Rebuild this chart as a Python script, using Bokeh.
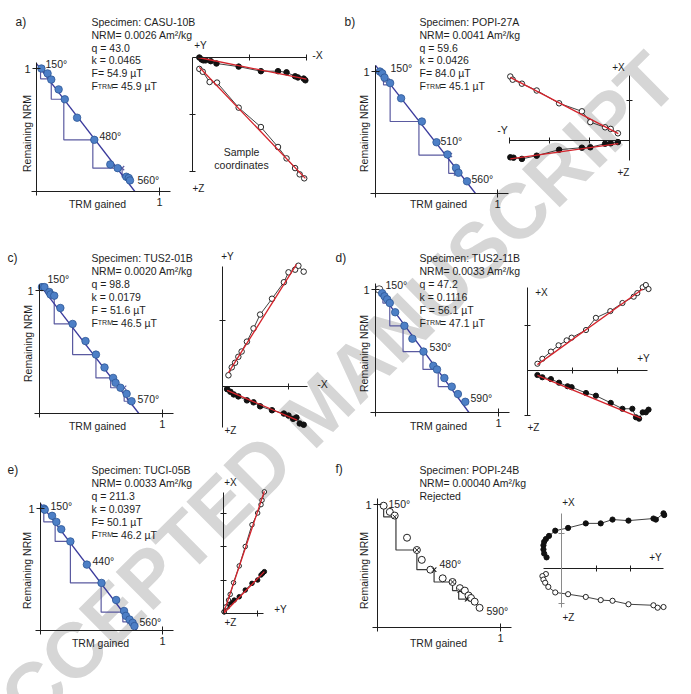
import numpy as np
from bokeh.plotting import figure
from bokeh.models import Range1d, LinearAxis, FixedTicker, Label
from bokeh.embed import file_html
from bokeh.resources import INLINE

W, H = 691, 694
FONT = "Liberation Sans"
INK = "#1e1e1e"
BLUE_FILL = "#4d7fc6"
BLUE_EDGE = "#2d5796"
FIT_BLUE = "#3a3a9c"
STEP_BLUE = "#5a5aa0"
RED = "#d4232b"

# ---------------- Arai plots: NRM remaining vs TRM gained ----------------
casu_trm = [0.04, 0.09, 0.12, 0.18, 0.23, 0.33, 0.47, 0.60, 0.66, 0.73, 0.75, 0.76]
casu_nrm = [1.00, 0.96, 0.91, 0.83, 0.75, 0.60, 0.42, 0.22, 0.19, 0.12, 0.11, 0.09]
casu_fit_trm = [0.0, 0.80]
casu_fit_nrm = [1.04, 0.0]
casu_chk_from_trm = [0.033, 0.12, 0.222, 0.458, 0.696]
casu_chk_from_nrm = [1.00, 0.91, 0.75, 0.42, 0.19]
casu_chk_trm = [0.12, 0.228, 0.47, 0.696, 0.745]
casu_chk_nrm = [0.916, 0.75, 0.42, 0.19, 0.117]

popi27_trm = [0.036, 0.055, 0.074, 0.12, 0.21, 0.38, 0.50, 0.59, 0.66, 0.68, 0.75]
popi27_nrm = [1.00, 0.985, 0.95, 0.905, 0.78, 0.59, 0.42, 0.32, 0.21, 0.17, 0.10]
popi27_fit_trm = [0.0, 0.82]
popi27_fit_nrm = [1.05, 0.0]
popi27_chk_from_trm = [0.063, 0.12, 0.356, 0.60]
popi27_chk_from_nrm = [0.985, 0.905, 0.59, 0.315]
popi27_chk_trm = [0.09, 0.37, 0.61, 0.66]
popi27_chk_nrm = [0.915, 0.59, 0.315, 0.165]

tus01_trm = [0.02, 0.04, 0.08, 0.09, 0.12, 0.17, 0.27, 0.375, 0.46, 0.53, 0.60, 0.62, 0.66, 0.71, 0.75]
tus01_nrm = [1.03, 1.03, 0.99, 0.97, 0.96, 0.86, 0.73, 0.59, 0.48, 0.375, 0.29, 0.25, 0.21, 0.16, 0.10]
tus01_fit_trm = [0.0, 0.81]
tus01_fit_nrm = [1.05, 0.0]
tus01_chk_from_trm = [0.12, 0.27, 0.46, 0.58, 0.69]
tus01_chk_from_nrm = [0.96, 0.73, 0.48, 0.29, 0.16]
tus01_chk_trm = [0.27, 0.46, 0.60, 0.69, 0.73]
tus01_chk_nrm = [0.73, 0.48, 0.29, 0.21, 0.10]

tus11_trm = [0.03, 0.054, 0.073, 0.095, 0.116, 0.16, 0.235, 0.30, 0.39, 0.47, 0.50, 0.56, 0.62, 0.67, 0.73]
tus11_nrm = [1.00, 0.97, 0.945, 0.92, 0.89, 0.815, 0.705, 0.60, 0.495, 0.38, 0.35, 0.28, 0.21, 0.15, 0.087]
tus11_fit_trm = [0.0, 0.76]
tus11_fit_nrm = [1.03, 0.0]
tus11_chk_from_trm = [0.06, 0.116, 0.224, 0.386, 0.51]
tus11_chk_from_nrm = [0.97, 0.89, 0.705, 0.495, 0.35]
tus11_chk_trm = [0.116, 0.235, 0.39, 0.50, 0.62]
tus11_chk_nrm = [0.89, 0.705, 0.495, 0.35, 0.21]

tuci_trm = [0.027, 0.035, 0.095, 0.13, 0.17, 0.245, 0.38, 0.50, 0.62, 0.685, 0.70, 0.73, 0.755, 0.77]
tuci_nrm = [1.00, 0.99, 0.94, 0.89, 0.83, 0.73, 0.54, 0.39, 0.25, 0.16, 0.12, 0.09, 0.063, 0.036]
tuci_fit_trm = [0.0, 0.79]
tuci_fit_nrm = [1.04, 0.0]
tuci_chk_from_trm = [0.027, 0.12, 0.245, 0.497, 0.675]
tuci_chk_from_nrm = [1.00, 0.89, 0.73, 0.39, 0.12]
tuci_chk_trm = [0.13, 0.245, 0.50, 0.685, 0.73]
tuci_chk_nrm = [0.89, 0.73, 0.39, 0.15, 0.07]

popi24_trm = [0.05, 0.10, 0.14, 0.24, 0.32, 0.36, 0.43, 0.53, 0.61, 0.67, 0.71, 0.74, 0.76, 0.79, 0.83]
popi24_nrm = [0.99, 0.94, 0.91, 0.73, 0.63, 0.55, 0.47, 0.40, 0.37, 0.32, 0.30, 0.26, 0.24, 0.21, 0.16]
popi24_chk_from_trm = [0.05, 0.15, 0.32, 0.46, 0.61, 0.66]
popi24_chk_from_nrm = [0.99, 0.91, 0.63, 0.47, 0.37, 0.32]
popi24_chk_trm = [0.14, 0.32, 0.46, 0.61, 0.67, 0.73]
popi24_chk_nrm = [0.90, 0.63, 0.47, 0.37, 0.30, 0.23]

# ---------------- Zijderveld plots (horizontal, vertical components) ----------------
casu_zh_open = [0.12, 0.18, 0.30, 0.43, 0.81, 1.20, 1.50, 1.65, 1.80, 1.88, 1.96]
casu_zv_open = [-0.20, -0.25, -0.43, -0.44, -0.88, -1.22, -1.57, -1.77, -1.94, -2.05, -2.12]
casu_zh_fill = [0.12, 0.16, 0.19, 0.23, 0.32, 0.42, 0.81, 1.20, 1.50, 1.65, 1.80, 1.85, 1.95, 1.98]
casu_zv_fill = [0.0, -0.035, -0.05, -0.05, -0.064, -0.105, -0.16, -0.24, -0.24, -0.26, -0.33, -0.35, -0.37, -0.40]
casu_fit_open = ([0.12, 1.98], [-0.17, -2.12])
casu_fit_fill = ([0.10, 2.00], [0.0, -0.38])

popi27_zh_open = [-2.98, -2.92, -2.69, -2.32, -1.76, -1.19, -0.98, -0.61, -0.47, -0.29]
popi27_zv_open = [1.60, 1.52, 1.42, 1.25, 0.93, 0.73, 0.46, 0.33, 0.29, 0.18]
popi27_zh_fill = [-2.98, -2.90, -2.69, -2.32, -1.76, -1.19, -0.98, -0.61, -0.47, -0.29]
popi27_zv_fill = [-0.42, -0.43, -0.46, -0.38, -0.23, -0.18, -0.17, -0.08, -0.07, -0.04]
popi27_fit_open = ([-2.98, -0.28], [1.58, 0.17])
popi27_fit_fill = ([-2.98, -0.28], [-0.46, -0.08])

tus01_zh_open = [0.09, 0.14, 0.19, 0.24, 0.29, 0.37, 0.47, 0.57, 0.75, 0.93, 1.00, 1.10, 1.15, 1.23]
tus01_zv_open = [0.17, 0.29, 0.36, 0.45, 0.53, 0.68, 0.88, 1.09, 1.33, 1.58, 1.73, 1.77, 1.83, 1.74]
tus01_zh_fill = [0.07, 0.12, 0.17, 0.24, 0.37, 0.47, 0.57, 0.75, 0.93, 1.00, 1.07, 1.12, 1.17, 1.23]
tus01_zv_fill = [-0.04, -0.08, -0.12, -0.15, -0.21, -0.24, -0.30, -0.36, -0.41, -0.44, -0.49, -0.47, -0.56, -0.58]
tus01_fit_open = ([0.09, 1.12], [0.21, 1.85])
tus01_fit_fill = ([0.07, 1.13], [-0.06, -0.51])

tus11_zh_open = [0.22, 0.33, 0.52, 0.69, 0.87, 0.98, 1.30, 1.52, 1.84, 2.11, 2.36, 2.44, 2.56, 2.63, 2.69]
tus11_zv_open = [0.15, 0.26, 0.42, 0.56, 0.67, 0.73, 0.90, 1.17, 1.32, 1.50, 1.64, 1.72, 1.85, 1.90, 1.81]
tus11_zh_fill = [0.22, 0.33, 0.52, 0.70, 0.89, 0.98, 1.30, 1.52, 1.85, 2.11, 2.33, 2.41, 2.48, 2.56, 2.63, 2.69]
tus11_zv_fill = [-0.10, -0.15, -0.19, -0.27, -0.35, -0.37, -0.50, -0.56, -0.72, -0.85, -0.85, -1.04, -1.07, -0.93, -0.93, -0.87]
tus11_fit_open = ([0.22, 2.56], [0.13, 1.81])
tus11_fit_fill = ([0.22, 2.52], [-0.11, -1.06])

tuci_zh_open = [0.02, 0.07, 0.15, 0.20, 0.30, 0.47, 0.65, 0.85, 1.02, 1.12, 1.15, 1.22]
tuci_zv_open = [0.05, 0.20, 0.40, 0.57, 0.92, 1.42, 2.00, 2.65, 3.00, 3.25, 3.38, 3.63]
tuci_zh_fill = [0.02, 0.12, 0.22, 0.32, 0.47, 0.65, 0.85, 1.02, 1.12, 1.17, 1.22]
tuci_zv_fill = [0.05, 0.20, 0.32, 0.40, 0.50, 0.70, 0.90, 1.00, 1.15, 1.20, 1.25]
tuci_fit_open = ([0.0, 1.22], [0.0, 3.65])
tuci_fit_fill = ([0.0, 1.22], [0.0, 1.25])

popi24_zh_fill = [-0.43, -0.50, -0.52, -0.52, -0.50, -0.45, -0.36, -0.18, 0.19, 0.70, 1.13, 1.47, 1.93, 2.65, 2.72, 2.94, 2.96]
popi24_zv_fill = [0.32, 0.43, 0.55, 0.67, 0.77, 0.85, 0.94, 1.09, 1.17, 1.30, 1.30, 1.41, 1.38, 1.44, 1.41, 1.59, 1.54]
popi24_zh_open = [-0.45, -0.55, -0.52, -0.47, -0.38, -0.18, 0.19, 0.70, 1.13, 1.47, 1.93, 2.65, 2.77, 2.94]
popi24_zv_open = [-0.16, -0.22, -0.32, -0.41, -0.53, -0.69, -0.74, -0.82, -0.91, -0.93, -1.03, -1.06, -1.13, -1.11]

# ---------------- Specimen summaries ----------------
casu_info = ["Specimen: CASU-10B", "NRM= 0.0026 Am\u00b2/kg", "q = 43.0", "k = 0.0465", "F= 54.9 \u00b5T"]
casu_ftrm = "= 45.9 \u00b5T"
popi27_info = ["Specimen: POPI-27A", "NRM= 0.0041 Am\u00b2/kg", "q = 59.6", "k = 0.0426", "F= 84.0 \u00b5T"]
popi27_ftrm = "= 45.1 \u00b5T"
tus01_info = ["Specimen: TUS2-01B", "NRM= 0.0020 Am\u00b2/kg", "q = 98.8", "k = 0.0179", "F = 51.6 \u00b5T"]
tus01_ftrm = "= 46.5 \u00b5T"
tus11_info = ["Specimen: TUS2-11B", "NRM= 0.0033 Am\u00b2/kg", "q = 47.2", "k = 0.1116", "F = 56.1 \u00b5T"]
tus11_ftrm = "= 47.1 \u00b5T"
tuci_info = ["Specimen: TUCI-05B", "NRM= 0.0033 Am\u00b2/kg", "q = 211.3", "k = 0.0397", "F= 50.1 \u00b5T"]
tuci_ftrm = "= 46.2 \u00b5T"
popi24_info = ["Specimen: POPI-24B", "NRM= 0.00040 Am\u00b2/kg", "Rejected"]

p = figure(width=W, height=H, x_range=Range1d(0, W), y_range=Range1d(H, 0),
           x_axis_type=None, y_axis_type=None, toolbar_location=None,
           output_backend="svg", min_border=0, outline_line_color=None,
           background_fill_color="white", border_fill_color="white")


def text(x, y, t, size=10.5, align="left", baseline="middle", angle=0.0,
         color=INK, style="normal", level="annotation"):
    p.add_layout(Label(x=x, y=y, text=t, text_font=FONT, text_font_size=f"{size}px",
                       text_align=align, text_baseline=baseline, angle=angle,
                       text_color=color, text_font_style=style, level=level))


# watermark across the page
text(318, 408, "ACCEPTED MANUSCRIPT", size=78, align="center", angle=np.radians(44.75),
     color="#d6d6d6", style="bold", level="underlay")


def panel_ranges(key, ox, oy, unit):
    """Sub-plot coordinates: data (0, 0) sits at page pixel (ox, oy), `unit` px per data unit."""
    p.extra_x_ranges[key] = Range1d(-ox / unit, (W - ox) / unit)
    p.extra_y_ranges[key] = Range1d((oy - H) / unit, oy / unit)
    return dict(x_range_name=key, y_range_name=key)


def axis(key, dim, bounds, ticks, labelled=False, tick_len=4, color=INK):
    ax = LinearAxis(x_range_name=key, y_range_name=key, fixed_location=0, bounds=bounds,
                    ticker=FixedTicker(ticks=ticks), axis_line_color=color, axis_line_width=1,
                    major_tick_line_color=color, major_tick_in=tick_len, major_tick_out=tick_len,
                    minor_tick_line_color=None, major_label_standoff=2,
                    major_label_text_font=FONT, major_label_text_font_size="11px",
                    major_label_text_color=INK)
    if not labelled:
        ax.major_label_overrides = {t: "" for t in ticks}
    p.add_layout(ax, "below" if dim == "x" else "left")


def arai(key, ox, oy, unit, trm, nrm, from_trm, from_nrm, chk_trm, chk_nrm,
         fit=None, chk_marks=None, first_open=False, rejected=False):
    kw = panel_ranges(key, ox, oy, unit)
    axis(key, "x", (-0.04, 1.09), [1], labelled=True)
    axis(key, "y", (-0.03, 1.05), [1], labelled=True)
    step_color = "#3a3a3a" if rejected else STEP_BLUE
    xs = [[a, a, c] for a, c in zip(from_trm, chk_trm)]
    ys = [[b, d, d] for b, d in zip(from_nrm, chk_nrm)]
    p.multi_line(xs, ys, line_color=step_color, line_width=1.2, **kw)
    marks = chk_marks if chk_marks is not None else ["x"] * len(chk_trm)
    p.scatter(chk_trm, chk_nrm, marker=marks, size=6, line_color=step_color,
              fill_color=None, line_width=1.1, **kw)
    if fit is not None:
        p.line(fit[0], fit[1], line_color=FIT_BLUE, line_width=1.3, **kw)
    if rejected:
        p.scatter(trm, nrm, size=7, fill_color="white", line_color="#222222", line_width=1, **kw)
        p.scatter(chk_trm, chk_nrm, marker="x", size=6, line_color="#222222", line_width=1, **kw)
    else:
        fills = ["white" if (first_open and i == 0) else BLUE_FILL for i in range(len(trm))]
        edges = ["#222222" if (first_open and i == 0) else BLUE_EDGE for i in range(len(trm))]
        p.scatter(trm, nrm, size=7.5, fill_color=fills, line_color=edges, line_width=0.8, **kw)


def zij(key, ox, oy, unit, h_open, v_open, h_fill, v_fill, hb, vb, hticks, vticks,
        fit_open=None, fit_fill=None, size=5.5, vcolor=INK):
    kw = panel_ranges(key, ox, oy, unit)
    axis(key, "x", hb, hticks, tick_len=3)
    axis(key, "y", vb, vticks, tick_len=3, color=vcolor)
    p.line(h_fill, v_fill, line_color="#111111", line_width=0.8, **kw)
    p.line(h_open, v_open, line_color="#111111", line_width=0.8, **kw)
    p.scatter(h_fill, v_fill, size=size, fill_color="#111111", line_color="#111111", **kw)
    p.scatter(h_open, v_open, size=size, fill_color="white", line_color="#111111",
              line_width=0.9, **kw)
    for fit in (fit_open, fit_fill):
        if fit is not None:
            p.line(fit[0], fit[1], line_color=RED, line_width=1.3, **kw)


def info_block(x, y0, lines, ftrm=None, step=12.85):
    for i, t in enumerate(lines):
        text(x, y0 + i * step, t, baseline="alphabetic")
    if ftrm is not None:
        yb = y0 + len(lines) * step
        text(x, yb, "F", baseline="alphabetic")
        text(x + 6.3, yb, "TRM", size=7, baseline="alphabetic")
        text(x + 20.5, yb, ftrm, baseline="alphabetic")


def arai_labels(nrm_xy, trm_xy, temps):
    text(nrm_xy[0], nrm_xy[1], "Remaining NRM", size=10.5, align="center", angle=np.pi / 2)
    text(trm_xy[0], trm_xy[1], "TRM gained", size=10.5, align="center")
    for (x, y, t) in temps:
        text(x, y, t, size=10.5)


# ---- a) ----
text(15, 21, "a)", size=12)
info_block(91, 21.3, casu_info, casu_ftrm)
arai("a", 36, 191, 123, casu_trm, casu_nrm, casu_chk_from_trm, casu_chk_from_nrm,
     casu_chk_trm, casu_chk_nrm, fit=(casu_fit_trm, casu_fit_nrm))
arai_labels((26, 133), (97, 203), [(45, 63, "150\u00b0"), (99, 135, "480\u00b0"), (137, 179, "560\u00b0")])
zij("az", 192, 57, 57, casu_zh_open, casu_zv_open, casu_zh_fill, casu_zv_fill,
    (0, 2.0), (-2.0, 0), [1, 2], [-1, -2], casu_fit_open, casu_fit_fill, size=5.5)
text(200, 45, "+Y", size=10, align="center")
text(317, 54, "-X", size=10.5, align="center")
text(198, 188, "+Z", size=10, align="center")
text(241, 151, "Sample", size=10.5, align="center")
text(241, 164, "coordinates", size=10.5, align="center")

# ---- b) ----
text(344, 21, "b)", size=12)
info_block(419, 21.3, popi27_info, popi27_ftrm)
arai("b", 375, 193, 122, popi27_trm, popi27_nrm, popi27_chk_from_trm, popi27_chk_from_nrm,
     popi27_chk_trm, popi27_chk_nrm, fit=(popi27_fit_trm, popi27_fit_nrm),
     chk_marks=["square", "x", "x", "x"])
arai_labels((363, 133), (438, 203), [(390, 67, "150\u00b0"), (440, 140, "510\u00b0"), (471, 178, "560\u00b0")])
zij("bz", 629, 140, 40, popi27_zh_open, popi27_zv_open, popi27_zh_fill, popi27_zv_fill,
    (-3.0, 0), (-0.5, 1.62), [-3, -2, -1], [1], popi27_fit_open, popi27_fit_fill, size=5.5)
text(618, 67, "+X", size=10, align="center")
text(502, 129, "-Y", size=10.5, align="center")
text(623, 172, "+Z", size=10, align="center")

# ---- c) ----
text(7, 257, "c)", size=12)
info_block(91, 257.8, tus01_info, tus01_ftrm)
arai("c", 39, 413, 122.7, tus01_trm, tus01_nrm, tus01_chk_from_trm, tus01_chk_from_nrm,
     tus01_chk_trm, tus01_chk_nrm, fit=(tus01_fit_trm, tus01_fit_nrm))
arai_labels((27, 343), (97, 425), [(47, 278, "150\u00b0"), (137, 398, "570\u00b0")])
zij("cz", 222, 386, 66, tus01_zh_open, tus01_zv_open, tus01_zh_fill, tus01_zv_fill,
    (0, 1.29), (-0.62, 1.82), [1], [1], tus01_fit_open, tus01_fit_fill, size=5.5)
text(227, 256, "+Y", size=10, align="center")
text(322, 383, "-X", size=10.5, align="center")
text(230, 430, "+Z", size=10, align="center")

# ---- d) ----
text(335, 257, "d)", size=12)
info_block(419, 257.8, tus11_info, tus11_ftrm)
arai("d", 375, 412, 123, tus11_trm, tus11_nrm, tus11_chk_from_trm, tus11_chk_from_nrm,
     tus11_chk_trm, tus11_chk_nrm, fit=(tus11_fit_trm, tus11_fit_nrm), first_open=True)
arai_labels((363, 353), (438, 425), [(385, 284, "150\u00b0"), (429, 346, "530\u00b0"), (470, 397, "590\u00b0")])
zij("dz", 527, 370, 45, tus11_zh_open, tus11_zv_open, tus11_zh_fill, tus11_zv_fill,
    (0, 2.67), (-1.0, 1.84), [1, 2], [1, -1], tus11_fit_open, tus11_fit_fill, size=5.2)
text(541, 292, "+X", size=10, align="center")
text(643, 358, "+Y", size=10, align="center")
text(533, 427, "+Z", size=10, align="center")

# ---- e) ----
text(7, 469, "e)", size=12)
info_block(91, 469.8, tuci_info, tuci_ftrm)
arai("e", 40, 630, 122, tuci_trm, tuci_nrm, tuci_chk_from_trm, tuci_chk_from_nrm,
     tuci_chk_trm, tuci_chk_nrm, fit=(tuci_fit_trm, tuci_fit_nrm))
arai_labels((26, 570), (100, 642), [(50, 505, "150\u00b0"), (92, 560, "440\u00b0"), (139, 621, "560\u00b0")])
zij("ez", 223, 613, 33.5, tuci_zh_open, tuci_zv_open, tuci_zh_fill, tuci_zv_fill,
    (0, 1.2), (0, 3.6), [1], [1, 2, 3], tuci_fit_open, tuci_fit_fill, size=4.5)
text(230, 482, "+X", size=10, align="center")
text(280, 609, "+Y", size=10, align="center")
text(230, 622, "+Z", size=10, align="center")

# ---- f) ----
text(335, 468, "f)", size=12)
info_block(419, 469.8, popi24_info)
arai("f", 377, 627, 123, popi24_trm, popi24_nrm, popi24_chk_from_trm, popi24_chk_from_nrm,
     popi24_chk_trm, popi24_chk_nrm, rejected=True)
arai_labels((363, 570), (438, 642), [(388, 503, "150\u00b0"), (439, 563, "480\u00b0"), (486, 610, "590\u00b0")])
zij("fz", 561, 568, 34.7, popi24_zh_open, popi24_zv_open, popi24_zh_fill, popi24_zv_fill,
    (-0.52, 2.94), (-1.12, 1.58), [1, 2], [1, -1], size=5.2, vcolor="#8a8a8a")
text(568, 502, "+X", size=10, align="center")
text(655, 557, "+Y", size=10, align="center")
text(568, 617, "+Z", size=10, align="center")

open("out.html", "w").write(file_html(p, INLINE))
